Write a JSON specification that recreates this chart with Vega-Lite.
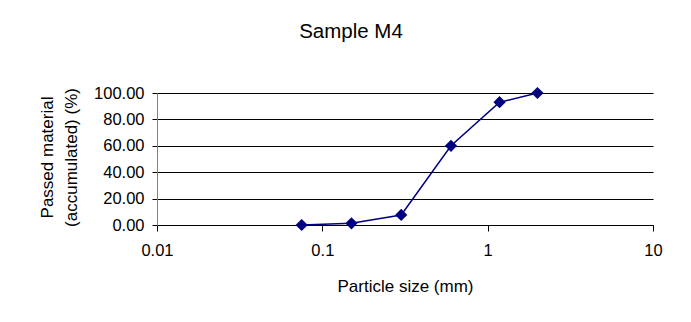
{
  "$schema": "https://vega.github.io/schema/vega-lite/v6.json",
  "width": 496,
  "height": 132,
  "autosize": {"type": "none"},
  "padding": {"left": 157, "top": 93, "right": 38, "bottom": 97},
  "background": "white",
  "config": {
    "font": "Liberation Sans",
    "view": {"stroke": null},
    "axis": {"labelFont": "Liberation Sans", "titleFont": "Liberation Sans", "labelColor": "black", "titleColor": "black", "titleFontWeight": "normal"}
  },
  "title": {
    "text": "Sample M4",
    "fontSize": 20.5,
    "fontWeight": "normal",
    "font": "Liberation Sans",
    "color": "black",
    "anchor": "middle",
    "dx": -54,
    "offset": 43
  },
  "data": {
    "values": [
      {"size": 0.075, "passed": 0.0},
      {"size": 0.15, "passed": 1.3},
      {"size": 0.3, "passed": 7.6},
      {"size": 0.6, "passed": 60.0},
      {"size": 1.18, "passed": 93.0},
      {"size": 2.0, "passed": 100.0}
    ]
  },
  "encoding": {
    "x": {
      "field": "size",
      "type": "quantitative",
      "scale": {"type": "log", "domain": [0.01, 10], "nice": false},
      "axis": {
        "values": [0.01, 0.1, 1, 10],
        "format": "~g",
        "grid": false,
        "labelFlush": false,
        "domainColor": "black",
        "tickColor": "black",
        "tickSize": 6,
        "labelFontSize": 16.5,
        "labelPadding": 11,
        "title": "Particle size (mm)",
        "titleFontSize": 17,
        "titlePadding": 20
      }
    },
    "y": {
      "field": "passed",
      "type": "quantitative",
      "scale": {"domain": [0, 100], "nice": false},
      "axis": {
        "values": [0, 20, 40, 60, 80, 100],
        "format": ".2f",
        "grid": true,
        "gridColor": "black",
        "gridOpacity": 1,
        "domainColor": "#808080",
        "tickColor": "black",
        "tickSize": 5,
        "labelFontSize": 16.5,
        "labelPadding": 8,
        "title": ["Passed material", "(accumulated) (%)"],
        "titleFontSize": 17,
        "titleLineHeight": 24,
        "titleAngle": -90,
        "titleAlign": "center",
        "titleBaseline": "top",
        "titleX": -118,
        "titleY": 64
      }
    }
  },
  "layer": [
    {"mark": {"type": "line", "color": "#000080", "strokeWidth": 1.5}},
    {"mark": {"type": "point", "shape": "diamond", "filled": true, "color": "#000080", "size": 150, "opacity": 1}}
  ]
}
